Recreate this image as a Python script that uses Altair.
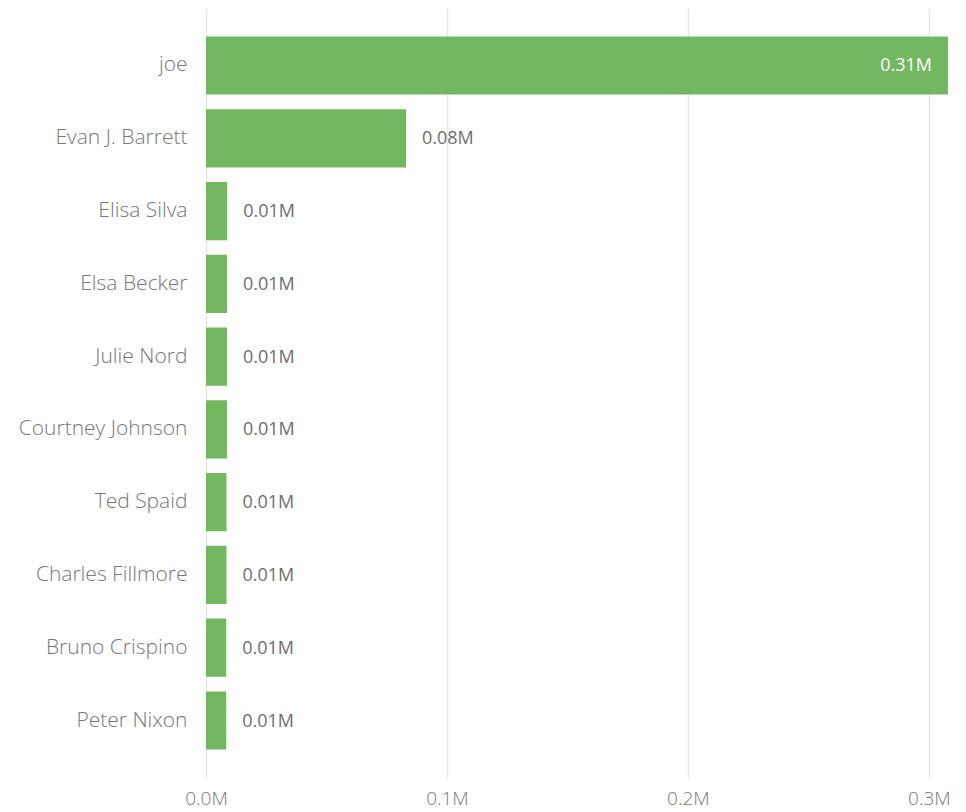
import altair as alt
import pandas as pd

names = ["joe", "Evan J. Barrett", "Elisa Silva", "Elsa Becker", "Julie Nord",
         "Courtney Johnson", "Ted Spaid", "Charles Fillmore", "Bruno Crispino", "Peter Nixon"]
values = [307900, 83000, 8800, 8700, 8700, 8700, 8500, 8500, 8400, 8400]
tick_values = [0, 100000, 200000, 300000]

df = pd.DataFrame({"name": names, "value": values})

FONT = "Segoe UI, Open Sans, sans-serif"
GREEN = "#73B761"
GRAY = "#777777"

y_enc = alt.Y("name:N", sort=names, title=None,
              scale=alt.Scale(paddingInner=0.2, paddingOuter=0.39),
              axis=alt.Axis(ticks=False, domain=False, labelPadding=19,
                            labelFontSize=21, labelColor=GRAY, labelFont=FONT,
                            labelFontWeight=300,
                            minExtent=198, maxExtent=198, grid=False))
x_enc = alt.X("value:Q", title=None,
              scale=alt.Scale(domain=[0, 310000], nice=False, zero=True),
              axis=alt.Axis(values=tick_values, ticks=False, domain=False,
                            labelExpr="format(datum.value/1000000, '.1f') + 'M'",
                            labelFontSize=19, labelColor=GRAY, labelFont=FONT,
                            labelFontWeight=300, labelFlush=False,
                            labelPadding=11, grid=True, gridColor="#E6E6E6",
                            gridWidth=1.5))

base = alt.Chart(df).transform_calculate(
    lbl="format(datum.value/1000000, '.2f') + 'M'"
)

bars = base.mark_bar(color=GREEN).encode(y=y_enc, x=x_enc)

outside = base.transform_filter("datum.value < 200000").mark_text(
    align="left", baseline="middle", dx=16, dy=1, fontSize=18, color="#6E6E6E", font=FONT
).encode(y=alt.Y("name:N", sort=names), x="value:Q", text="lbl:N")

inside = base.transform_filter("datum.value >= 200000").mark_text(
    align="right", baseline="middle", dx=-16, dy=1, fontSize=18, color="white", font=FONT
).encode(y=alt.Y("name:N", sort=names), x="value:Q", text="lbl:N")

chart = alt.layer(bars, outside, inside).properties(
    width=747, height=770, background="white",
    padding={"left": 0, "top": 0, "right": 5, "bottom": 5}
).configure_view(strokeWidth=0, stroke="transparent")

chart.save("out.html", embed_options={"renderer": "svg", "actions": False})
